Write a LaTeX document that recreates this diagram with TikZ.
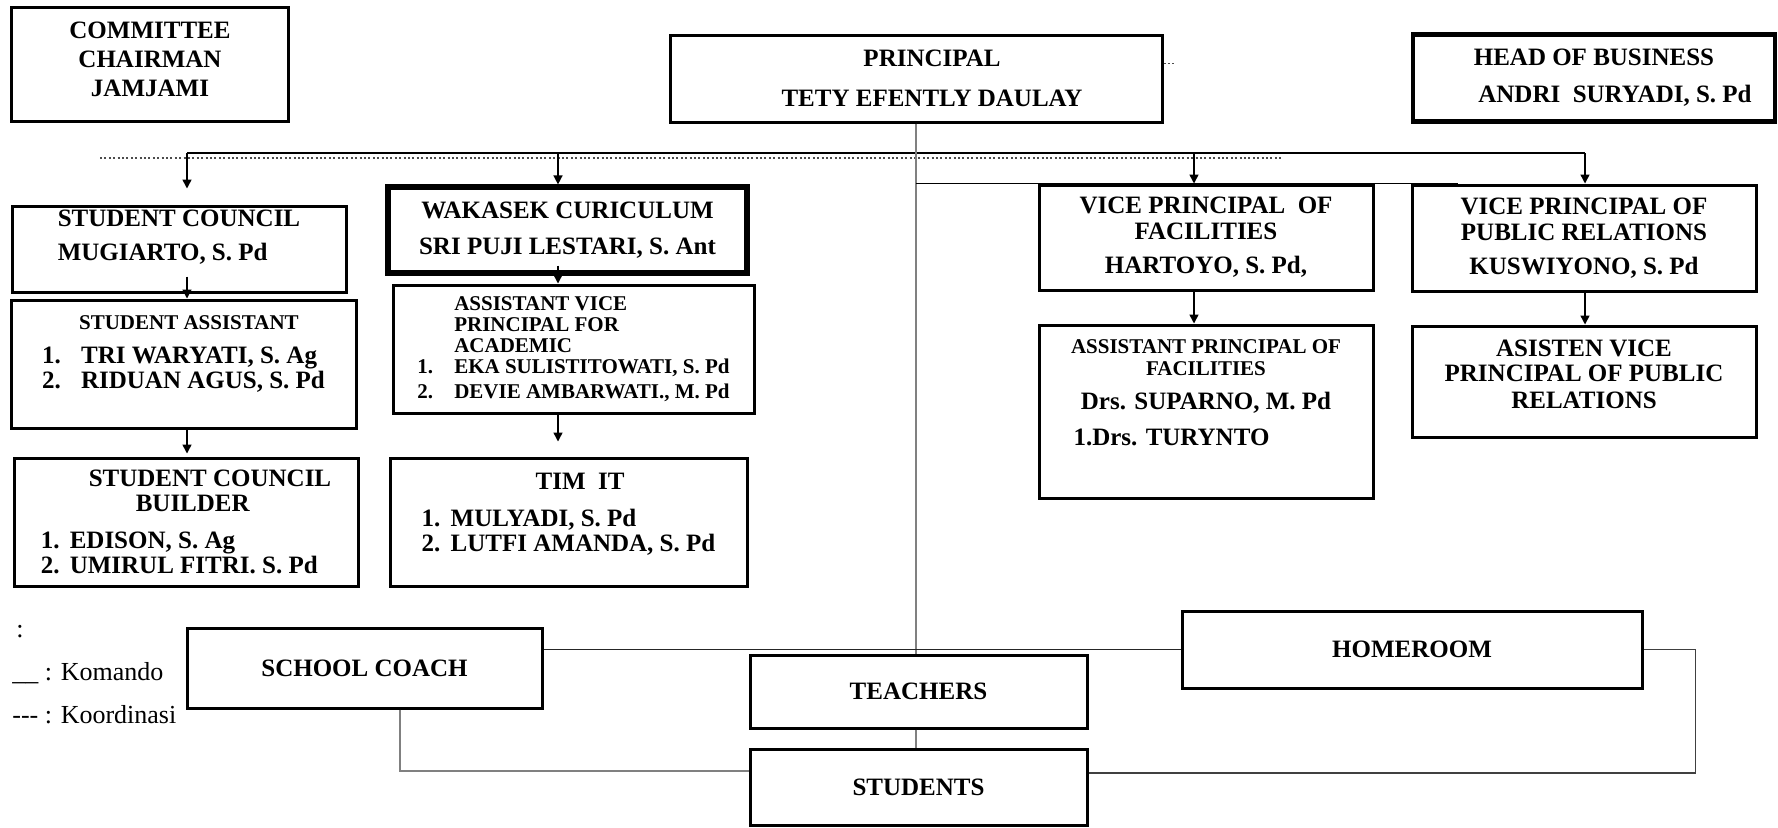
\documentclass[tikz,border=0pt]{standalone}
\usepackage{fontspec}
\setmainfont{Liberation Serif}
\usetikzlibrary{arrows.meta, positioning, calc}

\newcommand{\bigf}{\fontsize{12.5}{14.5}\selectfont\bfseries}
\newcommand{\listf}{\fontsize{12.5}{12.5}\selectfont\bfseries}
\newcommand{\smallf}{\fontsize{10.5}{10.5}\selectfont\bfseries}
\newcommand{\lowpad}[1]{\rule[-#1]{0pt}{#1}}

\begin{document}
\begin{tikzpicture}[
		x=0.5pt, y=-0.5pt,
		% --- ESTILOS ---
		block/.style = {draw, rectangle, line width=1.5pt, inner sep=0pt, align=center, font=\bigf},
		list_block/.style = {block, align=left, font=\listf},
		link/.style = {line width=0.75pt},
		trunk/.style = {line width=1pt, draw=black!50},
		koord/.style = {line width=0.75pt, black!70, dash pattern=on 1pt off 1.2pt},
		legend/.style = {anchor=base west, inner sep=0pt, font=\fontsize{13}{15}\selectfont},
		>={Triangle[length=4.5pt, width=4.5pt]}
		]
		\useasboundingbox (0,0) rectangle (1778,827);
		
		% --- CABECERA ---
		\node [block, minimum width=138.5pt, minimum height=57pt] (comm) at (150,64)
			{COMMITTEE\\CHAIRMAN\\JAMJAMI\lowpad{5pt}};
		\node [block, minimum width=246pt, minimum height=43.5pt] (prin) at (916,78.5)
			{\hspace*{16pt}PRINCIPAL\\[5.5pt]\hspace*{16pt}TETY EFENTLY DAULAY};
		\node [block, line width=2.2pt, minimum width=181pt, minimum height=43.5pt] (head) at (1594,78)
			{HEAD OF BUSINESS\\[4pt]\hspace*{21pt}ANDRI\ \ SURYADI, S. Pd};
		
		% --- PRIMERA FILA ---
		\node [block, align=left, minimum width=167pt, minimum height=43pt] (sc) at (179,249)
			{STUDENT COUNCIL\\[2.5pt]MUGIARTO, S. Pd\lowpad{14pt}};
		\node [block, line width=2.6pt, minimum width=179.5pt, minimum height=43pt] (wk) at (567.5,230)
			{WAKASEK CURICULUM\\[3.5pt]SRI PUJI LESTARI, S. Ant};
		\node [block, minimum width=167pt, minimum height=52.5pt] (vpf) at (1206,237.5)
			{VICE PRINCIPAL\ \ OF\\[-1.5pt]FACILITIES\\[2.5pt]HARTOYO, S. Pd,};
		\node [block, minimum width=172pt, minimum height=53pt] (vppr) at (1584,238)
			{VICE PRINCIPAL OF\\[-1.5pt]PUBLIC RELATIONS\\[2.5pt]KUSWIYONO, S. Pd};
		
		% --- SEGUNDA FILA ---
		\node [list_block, minimum width=172.5pt, minimum height=64pt] (sa) at (183.5,364)
			{\hspace*{18.5pt}{\smallf STUDENT ASSISTANT}\\[4.5pt]%
			 \makebox[19.5pt][l]{1.}TRI WARYATI, S. Ag\\%
			 \makebox[19.5pt][l]{2.}RIDUAN AGUS, S. Pd\lowpad{12pt}};
		\node [block, align=left, font=\smallf, minimum width=180.5pt, minimum height=64pt] (avp) at (573.5,349)
			{\hspace*{18.5pt}ASSISTANT VICE\\%
			 \hspace*{18.5pt}PRINCIPAL FOR\\%
			 \hspace*{18.5pt}ACADEMIC\\%
			 \makebox[18.5pt][l]{1.}EKA SULISTITOWATI, S. Pd\\[2pt]%
			 \makebox[18.5pt][l]{2.}DEVIE AMBARWATI., M. Pd};
		\node [block, minimum width=167pt, minimum height=86.5pt] (apf) at (1206,411.5)
			{{\smallf ASSISTANT PRINCIPAL OF}\\[-3.5pt]%
			 {\smallf FACILITIES}\\[2.5pt]%
			 Drs. SUPARNO, M. Pd\\[3.5pt]%
			 1.Drs. TURYNTO\hspace*{34.5pt}\lowpad{19pt}};
		\node [block, minimum width=172pt, minimum height=55.5pt] (avppr) at (1584,381.5)
			{ASISTEN VICE\\[-2pt]PRINCIPAL OF PUBLIC\\[-1pt]RELATIONS\lowpad{7.5pt}};
		
		% --- TERCERA FILA ---
		\node [list_block, minimum width=172pt, minimum height=64pt] (scb) at (186,522)
			{\hspace*{24pt}STUDENT COUNCIL\\%
			 \hspace*{47.5pt}BUILDER\\[6pt]%
			 \makebox[14.5pt][l]{1.}EDISON, S. Ag\\%
			 \makebox[14.5pt][l]{2.}UMIRUL FITRI. S. Pd};
		\node [list_block, minimum width=178.5pt, minimum height=64pt] (tim) at (568.5,522)
			{\hspace*{57pt}TIM\ \ IT\\[6pt]%
			 \makebox[14.5pt][l]{1.}MULYADI, S. Pd\\%
			 \makebox[14.5pt][l]{2.}LUTFI AMANDA, S. Pd\lowpad{10pt}};
		
		% --- PARTE INFERIOR ---
		\node [block, minimum width=177.5pt, minimum height=40pt] (coach) at (364.5,668) {SCHOOL COACH};
		\node [block, minimum width=168.5pt, minimum height=36.5pt] (teach) at (918.5,691.5) {TEACHERS};
		\node [block, minimum width=168.5pt, minimum height=38pt] (stud) at (918.5,787) {STUDENTS};
		\node [block, minimum width=230pt, minimum height=38.5pt] (home) at (1412,649.5) {HOMEROOM};
		
		% --- LEYENDA ---
		\node [legend] (colon) at (16,637) {:};
		\node [legend] (komando) at (12,680) {\_\_ : Komando};
		\node [legend] (koordinasi) at (12,723) {-{}-{}- : Koordinasi};
		
		% --- LINEAS SUPERIORES ---
		\coordinate (j1) at (187,153);
		\coordinate (j2) at (558,153);
		\coordinate (j3) at (1194,153);
		\coordinate (j4) at (1585,153);
		\coordinate (kl) at (100,158);
		\coordinate (kr) at (1282,158);
		
		\draw [koord] (kl) -- (kr);
		\draw [koord] ($(prin.east)+(0,-15)$) -- ++(10,0);
		\draw [link] (j1) -- (j4);
		\draw [link, ->] (j1) -- ($(j1 |- sc.north)+(0,-16)$);
		\draw [link, ->] (j2) -- (j2 |- wk.north);
		\draw [link, ->] (j3) -- (j3 |- vpf.north);
		\draw [link, ->] (j4) -- (j4 |- vppr.north);
		
		% --- TRONCO CENTRAL ---
		\draw [trunk] (prin.south) -- (prin.south |- teach.north);
		\draw [trunk] (prin.south |- teach.south) -- (prin.south |- stud.north);
		\draw [link] (prin.south |- vpf.north) -- ($(vppr.north west)+(47,0)$);
		
		% --- FLECHAS INTERNAS ---
		\draw [link, ->] ($(j1 |- sc.south)+(0,-17)$) -- (j1 |- sa.north);
		\draw [link, ->] (j1 |- sa.south) -- ($(j1 |- scb.north)+(0,-3)$);
		\draw [link, ->] ($(j2 |- wk.south)+(0,-10)$) -- (j2 |- avp.north);
		\draw [link, ->] (j2 |- avp.south) -- ($(j2 |- tim.north)+(0,-15)$);
		\draw [link, ->] (j3 |- vpf.south) -- (j3 |- apf.north);
		\draw [link, ->] (j4 |- vppr.south) -- (j4 |- avppr.north);
		
		% --- LAZOS INFERIORES ---
		\draw [link, black!85] (coach.east |- home.west) -- (home.west);
		\draw [trunk] ($(coach.south)+(35,0)$) |- ($(stud.west)+(0,-16)$);
		\draw [link, black!75] (home.east) -- ++(52,0) |- ($(stud.east)+(0,-14)$);
		
	\end{tikzpicture}
\end{document}
